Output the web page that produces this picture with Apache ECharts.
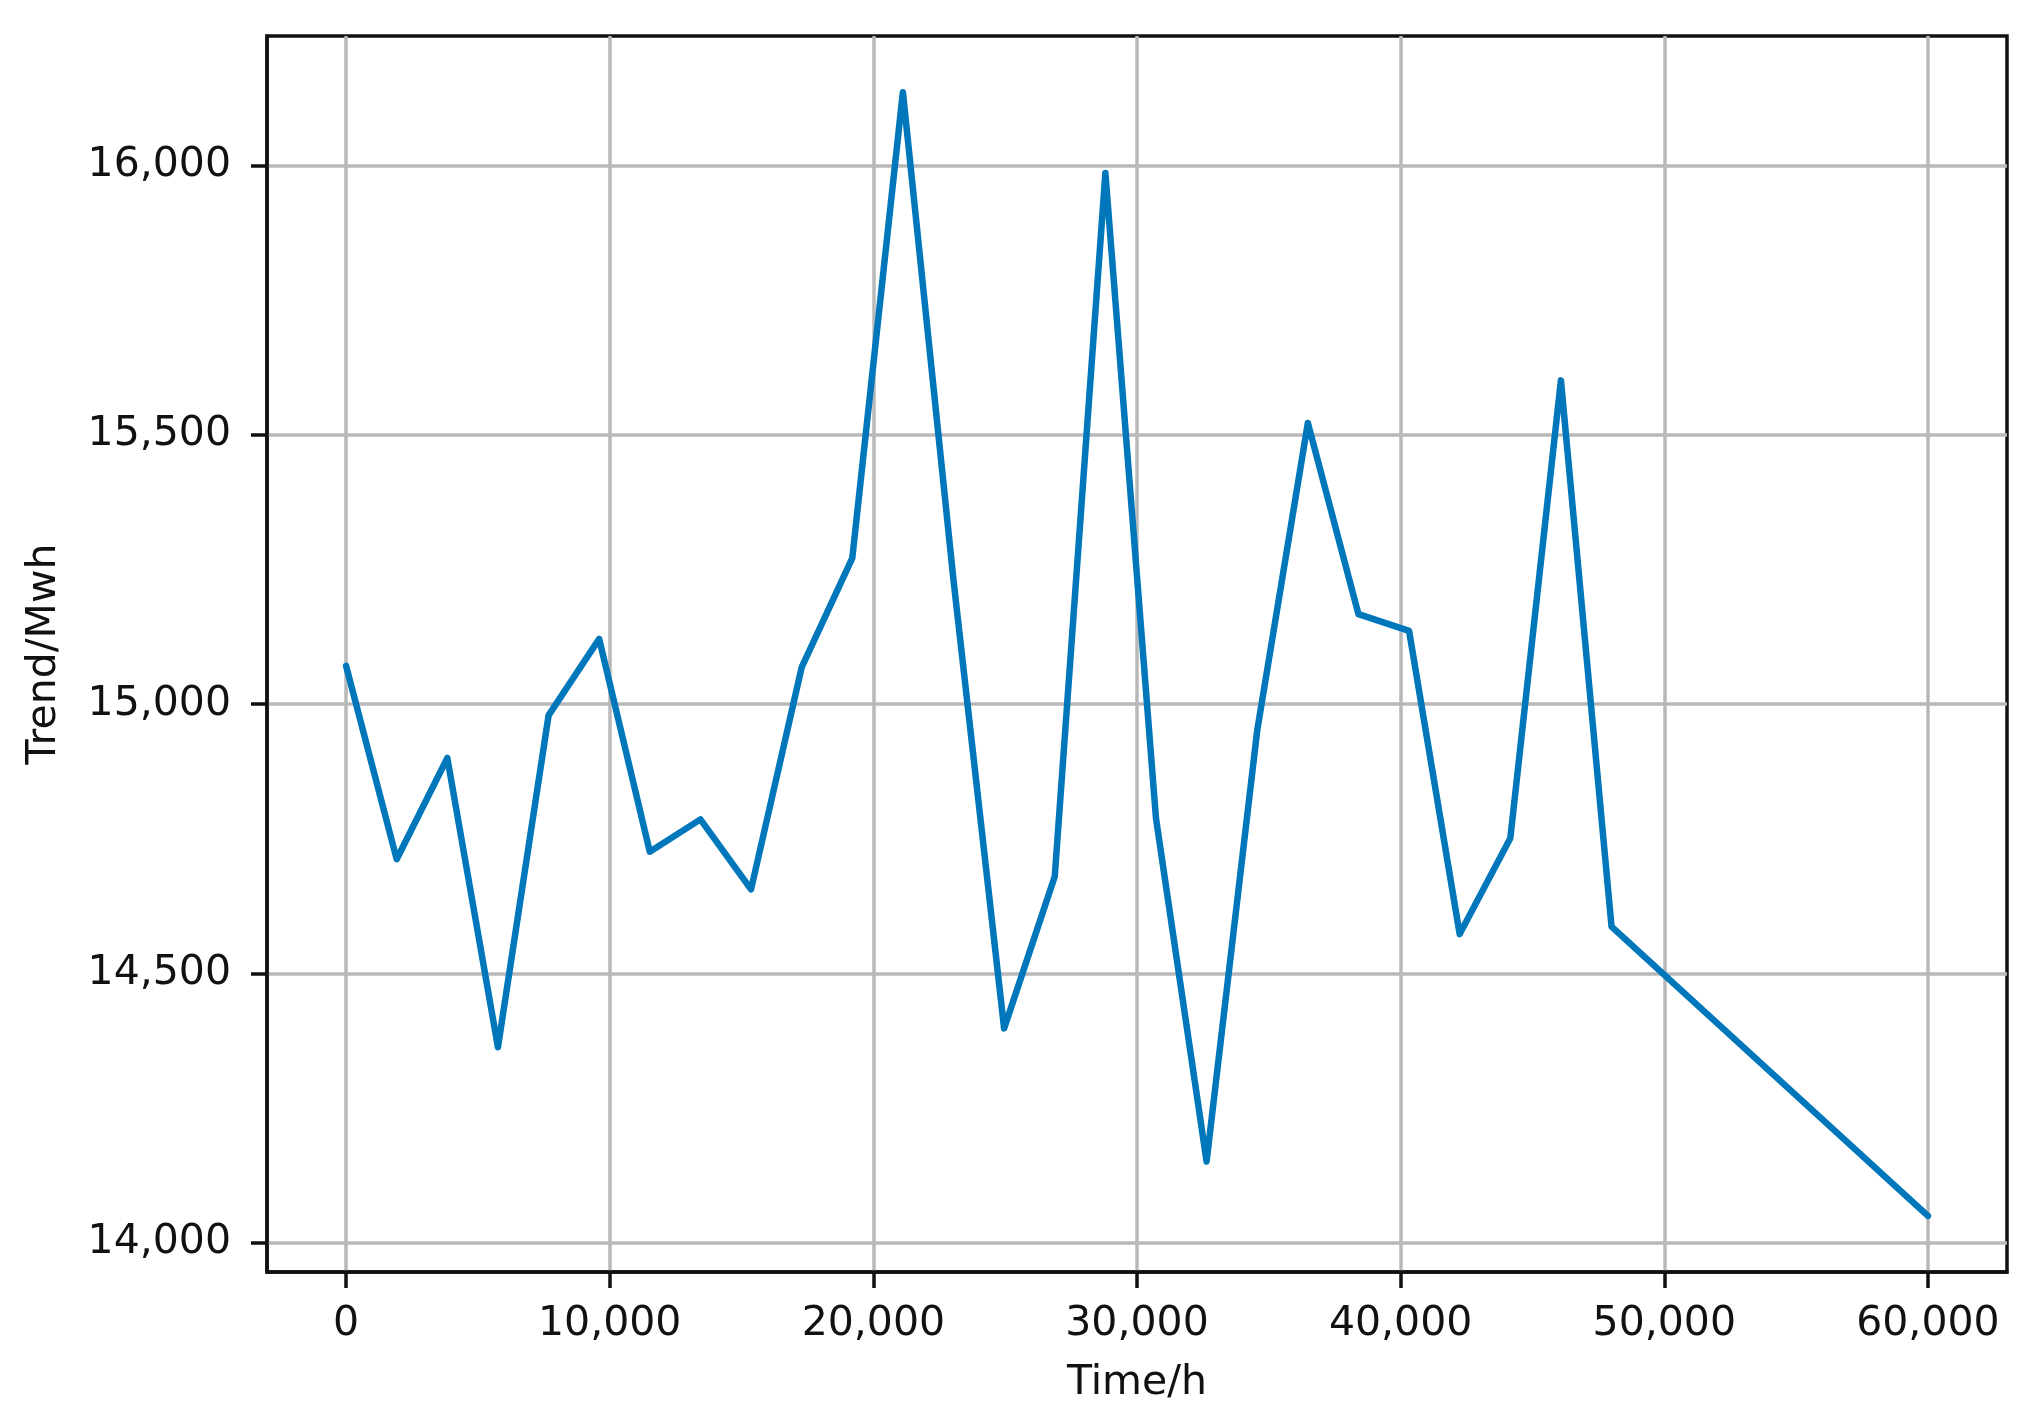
<!DOCTYPE html>
<html>
<head>
<meta charset="utf-8">
<script src="https://cdn.jsdelivr.net/npm/echarts@6/dist/echarts.min.js"></script>
<style>
  html, body { margin: 0; padding: 0; background: #fff; }
  #chart { width: 2042px; height: 1421px; }
</style>
</head>
<body>
<div id="chart"></div>
<script>
// values
var timeH = [0, 1920, 3840, 5760, 7680, 9600, 11520, 13440, 15360, 17280, 19200,
    21120, 23040, 24960, 26880, 28800, 30720, 32640, 34560, 36480, 38400,
    40320, 42240, 44160, 46080, 48000, 60000];
var trend = [15071, 14712, 14900, 14363, 14979, 15121, 14726, 14786, 14656, 15068, 15271,
    16136, 15230, 14398, 14680, 15986, 14788, 14151, 14951, 15522, 15167,
    15136, 14573, 14751, 15601, 14587, 14050];
var xTicks = [0, 10000, 20000, 30000, 40000, 50000, 60000];
var yTicks = [14000, 14500, 15000, 15500, 16000];

var points = [];
for (var i = 0; i < timeH.length; i++) {
    points.push([timeH[i], trend[i]]);
}

// matplotlib style 5% margins
var xMinD = Math.min.apply(null, timeH), xMaxD = Math.max.apply(null, timeH);
var yMinD = Math.min.apply(null, trend), yMaxD = Math.max.apply(null, trend);
var xPad = (xMaxD - xMinD) * 0.05, yPad = (yMaxD - yMinD) * 0.05;

function fmt(v) {
    return Number(v).toLocaleString('en-US');
}

var chart = echarts.init(document.getElementById('chart'));
var font = 'DejaVu Sans';

chart.setOption({
    animation: false,
    backgroundColor: '#fff',
    grid: {
        left: 267, top: 36, right: 35, bottom: 149,
        show: true, borderColor: '#111', borderWidth: 3.5
    },
    xAxis: {
        type: 'value',
        min: xMinD - xPad,
        max: xMaxD + xPad,
        name: 'Time/h',
        nameLocation: 'middle',
        nameGap: 91,
        nameTextStyle: { fontFamily: font, fontSize: 41, color: '#111' },
        axisLine: { show: true, onZero: false, lineStyle: { color: '#111', width: 3.5 } },
        axisTick: { show: true, customValues: xTicks, length: 16, lineStyle: { color: '#111', width: 3.5 } },
        axisLabel: {
            customValues: xTicks, formatter: fmt, margin: 32,
            fontFamily: font, fontSize: 41, color: '#111'
        },
        splitLine: { show: true, lineStyle: { color: '#b8b8b8', width: 3.5 } }
    },
    yAxis: {
        type: 'value',
        min: yMinD - yPad,
        max: yMaxD + yPad,
        name: 'Trend/Mwh',
        nameLocation: 'middle',
        nameGap: 202,
        nameTextStyle: { fontFamily: font, fontSize: 41, color: '#111' },
        axisLine: { show: true, onZero: false, lineStyle: { color: '#111', width: 3.5 } },
        axisTick: { show: true, customValues: yTicks, length: 16, lineStyle: { color: '#111', width: 3.5 } },
        axisLabel: {
            customValues: yTicks, formatter: fmt, margin: 36,
            fontFamily: font, fontSize: 41, color: '#111'
        },
        splitLine: { show: true, lineStyle: { color: '#b8b8b8', width: 3.5 } }
    },
    series: [{
        type: 'line',
        data: points,
        showSymbol: false,
        lineStyle: { color: '#0077BB', width: 6.5, join: 'round', cap: 'round' }
    }]
});
</script>
</body>
</html>
